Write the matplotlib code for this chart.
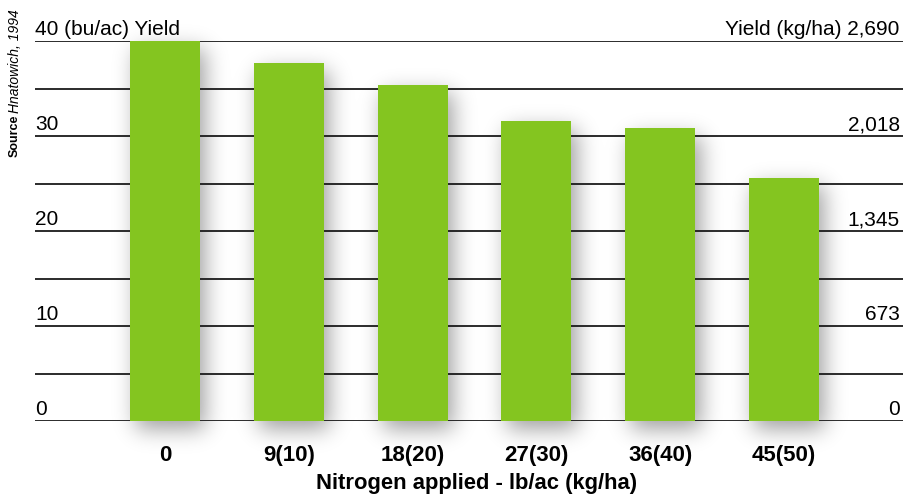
import numpy as np
import matplotlib.pyplot as plt

plt.rcParams['font.family'] = ['Liberation Sans', 'DejaVu Sans']

# yield response to nitrogen
rates = ["0", "9(10)", "18(20)", "27(30)", "36(40)", "45(50)"]
yield_bu = [40.0, 37.7, 35.4, 31.6, 30.8, 25.6]
left_ticks = [0, 10, 20, 30]
right_ticks = ["0", "673", "1,345", "2,018"]
grid_levels = [0, 5, 10, 15, 20, 25, 30, 35, 40]

W, H = 904, 500
fig = plt.figure(figsize=(W / 100, H / 100), dpi=100)
bg = fig.add_axes([0, 0, 1, 1])
bg.set_axis_off()
ax = fig.add_axes([35 / W, 79 / H, 869 / W, 380 / H])
ax.patch.set_alpha(0)

x = np.arange(len(rates))
bars = ax.bar(x, yield_bu, width=0.565, color='#84c520', zorder=3)
for lvl in grid_levels:
    ax.axhline(lvl, color='#1a1a1a', lw=1.3, zorder=2)

ax.set_xlim(-1.05, 5.97)
ax.set_ylim(0, 40)
for s in ax.spines.values():
    s.set_visible(False)
ax.set_yticks([])
ax.set_xticks(x, rates, fontweight='bold', fontsize=16)
ax.tick_params(axis='x', length=0, pad=17)

# value labels sitting on the grid lines
for v, r in zip(left_ticks, right_ticks):
    ax.annotate(str(v), xy=(0, v), xycoords=('axes fraction', 'data'),
                xytext=(0, 4), textcoords='offset points',
                ha='left', va='baseline', fontsize=15)
    ax.annotate(r, xy=(1, v), xycoords=('axes fraction', 'data'),
                xytext=(-3, 4), textcoords='offset points',
                ha='right', va='baseline', fontsize=15)
ax.annotate("40 (bu/ac) Yield", xy=(0, 40), xycoords=('axes fraction', 'data'),
            xytext=(0, 4), textcoords='offset points',
            ha='left', va='baseline', fontsize=15)
ax.annotate("Yield (kg/ha) 2,690", xy=(1, 40), xycoords=('axes fraction', 'data'),
            xytext=(-3, 4), textcoords='offset points',
            ha='right', va='baseline', fontsize=15)

fig.text(477 / W, 1 - 483 / H, "Nitrogen applied - lb/ac (kg/ha)",
         ha='center', va='center', fontweight='bold', fontsize=15.8)

fig.text(15 / W, 1 - 157 / H, "Source", rotation=90, ha='center', va='bottom',
         fontweight='bold', fontsize=9)
fig.text(15 / W, 1 - 113 / H, "Hnatowich, 1994", rotation=90, ha='center',
         va='bottom', style='italic', fontsize=10)

# soft drop shadow behind the bars
fig.canvas.draw()
mask = np.zeros((H, W))
for b in bars:
    (x0, y0), (x1, y1) = ax.transData.transform(
        [(b.get_x(), 0), (b.get_x() + b.get_width(), b.get_height())])
    mask[int(y0) - 8:int(y1) - 8, int(x0) + 6:int(x1) + 6] = 1.0
sig = 11
k = np.exp(-0.5 * (np.arange(-3 * sig, 3 * sig + 1) / sig) ** 2)
k /= k.sum()
mask = np.apply_along_axis(lambda r: np.convolve(r, k, mode='same'), 1, mask)
mask = np.apply_along_axis(lambda c: np.convolve(c, k, mode='same'), 0, mask)
shade = np.zeros((H, W, 4))
shade[..., 3] = np.clip(mask * 0.38, 0, 1)
bg.imshow(shade, origin='lower', extent=(0, W, 0, H), aspect='auto')
bg.set_xlim(0, W)
bg.set_ylim(0, H)

fig.savefig('out.png', dpi=100)
